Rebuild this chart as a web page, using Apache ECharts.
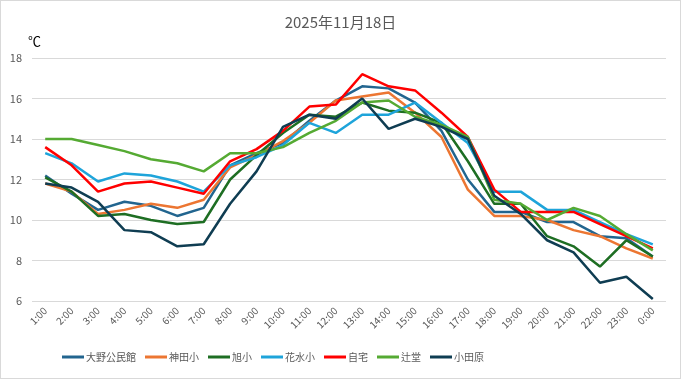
<!DOCTYPE html>
<html>
<head>
<meta charset="utf-8">
<script src="https://cdn.jsdelivr.net/npm/echarts@6/dist/echarts.min.js"></script>
<style>
html,body{margin:0;padding:0;background:#fff;}
#c{width:679px;height:377px;border:1px solid #d9d9d9;}
</style>
</head>
<body>
<div id="c"></div>
<script>
const hours = ["1:00","2:00","3:00","4:00","5:00","6:00","7:00","8:00","9:00","10:00","11:00","12:00","13:00","14:00","15:00","16:00","17:00","18:00","19:00","20:00","21:00","22:00","23:00","0:00"];
const seriesNames = ["大野公民館","神田小","旭小","花水小","自宅","辻堂","小田原"];
const oono    = [12.2,11.3,10.5,10.9,10.7,10.2,10.6,12.7,13.3,13.8,14.9,15.9,16.6,16.5,15.8,14.4,12.0,10.4,10.4,9.9,9.9,9.2,9.1,8.2];
const kanda   = [11.8,11.4,10.3,10.5,10.8,10.6,11.0,12.6,13.2,13.9,14.8,15.9,16.1,16.3,15.3,14.1,11.5,10.2,10.2,10.0,9.5,9.2,8.6,8.1];
const asahi   = [12.1,11.4,10.2,10.3,10.0,9.8,9.9,12.0,13.2,14.3,15.2,15.1,15.8,15.4,15.3,14.8,12.9,10.8,10.8,9.2,8.7,7.7,9.0,8.2];
const hanamizu= [13.3,12.8,11.9,12.3,12.2,11.9,11.4,12.7,13.1,13.7,14.8,14.3,15.2,15.2,15.8,14.8,13.8,11.4,11.4,10.5,10.5,9.9,9.3,8.8];
const jitaku  = [13.6,12.7,11.4,11.8,11.9,11.6,11.3,12.9,13.5,14.4,15.6,15.7,17.2,16.6,16.4,15.3,14.1,11.5,10.4,10.4,10.4,9.8,9.2,8.6];
const tsujido = [14.0,14.0,13.7,13.4,13.0,12.8,12.4,13.3,13.3,13.6,14.3,14.9,15.8,15.9,15.1,14.7,14.1,11.0,10.8,10.0,10.6,10.2,9.3,8.5];
const odawara = [11.8,11.6,10.9,9.5,9.4,8.7,8.8,10.8,12.4,14.6,15.2,15.0,16.0,14.5,15.0,14.6,14.0,11.2,10.3,9.0,8.4,6.9,7.2,6.1];
const allData = [oono,kanda,asahi,hanamizu,jitaku,tsujido,odawara];
const colors = ["#22658f","#ec7632","#1e6e23","#1ea4da","#ff0000","#55aa33","#0f3d52"];

const chart = echarts.init(document.getElementById('c'));
const FONT = '"Noto Sans CJK JP","Noto Sans",sans-serif';
chart.setOption({
  animation:false,
  textStyle:{fontFamily:FONT},
  title:{text:"2025年11月18日",left:'center',top:9,textStyle:{fontSize:15,fontWeight:'normal',color:'#595959',fontFamily:FONT}},
  grid:{left:31,right:14,top:57,bottom:77,containLabel:false},
  legend:{
    bottom:11,left:56,itemWidth:22,itemHeight:3,itemGap:9,icon:'rect',
    textStyle:{fontSize:10,color:'#595959',fontFamily:FONT,padding:[0,0,0,-3]},
    data:seriesNames
  },
  xAxis:{
    type:'category',data:hours,boundaryGap:true,
    axisLine:{show:false},axisTick:{show:false},
    axisLabel:{rotate:45,fontSize:10,color:'#595959',interval:0,margin:8}
  },
  yAxis:{
    type:'value',min:6,max:18,interval:2,
    name:'℃',nameLocation:'end',nameGap:10,
    nameTextStyle:{color:'#000',fontSize:13,align:'left',padding:[0,0,0,-4]},
    axisLine:{show:false},axisTick:{show:false},
    axisLabel:{fontSize:11,color:'#595959',margin:10},
    splitLine:{lineStyle:{color:'#d9d9d9',width:1}}
  },
  series: seriesNames.map((n,i)=>({
    name:n,type:'line',data:allData[i],symbol:'none',
    lineStyle:{width:2.5,color:colors[i]},itemStyle:{color:colors[i]}
  }))
});
</script>
</body>
</html>
